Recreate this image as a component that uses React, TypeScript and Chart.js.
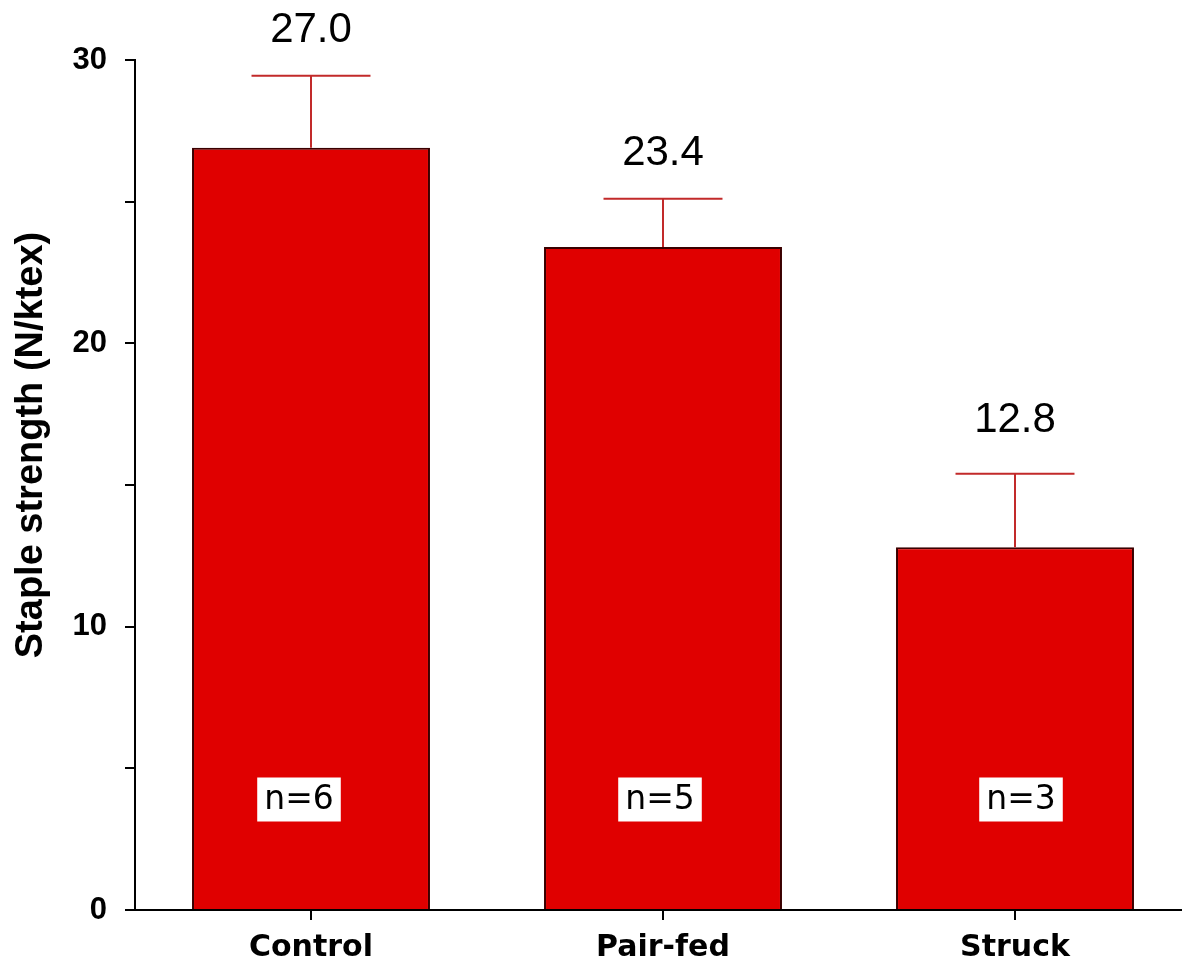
import { useEffect, useRef } from "react";
import { Chart, registerables } from "chart.js";

Chart.register(...registerables);

const categories = ["Control", "Pair-fed", "Struck"];
const means = [26.9, 23.4, 12.8];
const sems = [2.54, 1.7, 2.6];
const valueLabels = ["27.0", "23.4", "12.8"];
const sampleLabels = ["n=6", "n=5", "n=3"];
const sampleLabelValue = 3.9;
const yMin = 0;
const yMax = 30;
const yStep = 5;
const yLabelEvery = 10;
const yTitle = "Staple strength (N/ktex)";

// layout tweaks (pixels)
const sampleLabelShift = [-12, -3, 6];
const valueLabelLift = [34, 34, 42];

const ARIAL = '"Liberation Sans", Arial, sans-serif';
const DEJAVU = '"DejaVu Sans", sans-serif';

const annotatePlugin = {
  id: "annotate",
  afterDatasetsDraw(chart: any) {
    const ctx = chart.ctx;
    const yScale = chart.scales.y;
    const meta = chart.getDatasetMeta(0);
    ctx.save();
    meta.data.forEach((bar: any, i: number) => {
      const cx = bar.x;
      const base = bar.y;
      const top = yScale.getPixelForValue(means[i] + sems[i]);
      const half = bar.width / 4;
      ctx.strokeStyle = "#c22a2a";
      ctx.lineWidth = 2;
      ctx.beginPath();
      ctx.moveTo(cx, base);
      ctx.lineTo(cx, top);
      ctx.moveTo(cx - half, top);
      ctx.lineTo(cx + half, top);
      ctx.stroke();

      ctx.fillStyle = "#000";
      ctx.font = `42px ${ARIAL}`;
      ctx.textAlign = "center";
      ctx.textBaseline = "alphabetic";
      ctx.fillText(valueLabels[i], cx, top - valueLabelLift[i]);

      const ny = yScale.getPixelForValue(sampleLabelValue);
      const nx = cx + sampleLabelShift[i];
      ctx.font = `33px ${DEJAVU}`;
      const w = ctx.measureText(sampleLabels[i]).width;
      ctx.fillStyle = "#fff";
      ctx.fillRect(nx - w / 2 - 7, ny - 22, w + 14, 44);
      ctx.fillStyle = "#000";
      ctx.textBaseline = "middle";
      ctx.fillText(sampleLabels[i], nx, ny + 1);
    });

    ctx.translate(32, 445);
    ctx.rotate(-Math.PI / 2);
    ctx.font = `bold 38px ${ARIAL}`;
    ctx.textAlign = "center";
    ctx.textBaseline = "middle";
    ctx.fillStyle = "#000";
    ctx.fillText(yTitle, 0, 0);
    ctx.restore();
  },
};

export default function App() {
  const ref = useRef<HTMLCanvasElement>(null);

  useEffect(() => {
    const canvas = ref.current!;
    const chart = new Chart(canvas, {
      type: "bar",
      data: {
        labels: categories,
        datasets: [
          {
            data: means,
            backgroundColor: "#e00000",
            borderColor: "#3a0000",
            borderWidth: 2,
            categoryPercentage: 1,
            barPercentage: 0.676,
          },
        ],
      },
      options: {
        responsive: false,
        animation: false,
        devicePixelRatio: 1,
        layout: { padding: { top: 60, right: 9, left: 0, bottom: 0 } },
        plugins: {
          legend: { display: false },
          tooltip: { enabled: false },
        },
        scales: {
          x: {
            offset: true,
            grid: {
              offset: false,
              drawOnChartArea: false,
              drawTicks: true,
              tickLength: 10,
              color: "#000",
              lineWidth: 2,
            },
            border: { color: "#000", width: 2 },
            ticks: {
              color: "#000",
              padding: 10,
              font: { family: DEJAVU, size: 30, weight: "bold" },
            },
            afterFit: (s: any) => {
              s.height = 57;
            },
          },
          y: {
            min: yMin,
            max: yMax,
            grid: {
              drawOnChartArea: false,
              drawTicks: true,
              tickLength: 10,
              color: "#000",
              lineWidth: 2,
            },
            border: { color: "#000", width: 2 },
            ticks: {
              stepSize: yStep,
              color: "#000",
              padding: 18,
              font: { family: ARIAL, size: 31, weight: "bold" },
              callback: (v: any) => (Number(v) % yLabelEvery === 0 ? String(v) : ""),
            },
            afterFit: (s: any) => {
              s.width = 135;
            },
          },
        },
      },
      plugins: [annotatePlugin],
    });
    return () => chart.destroy();
  }, []);

  return (
    <div
      style={{
        position: "fixed",
        left: 0,
        top: 0,
        width: 1182,
        height: 967,
        overflow: "hidden",
        background: "#fff",
      }}
    >
      <canvas ref={ref} width={1200} height={967} style={{ width: 1200, height: 967, display: "block" }} />
    </div>
  );
}
